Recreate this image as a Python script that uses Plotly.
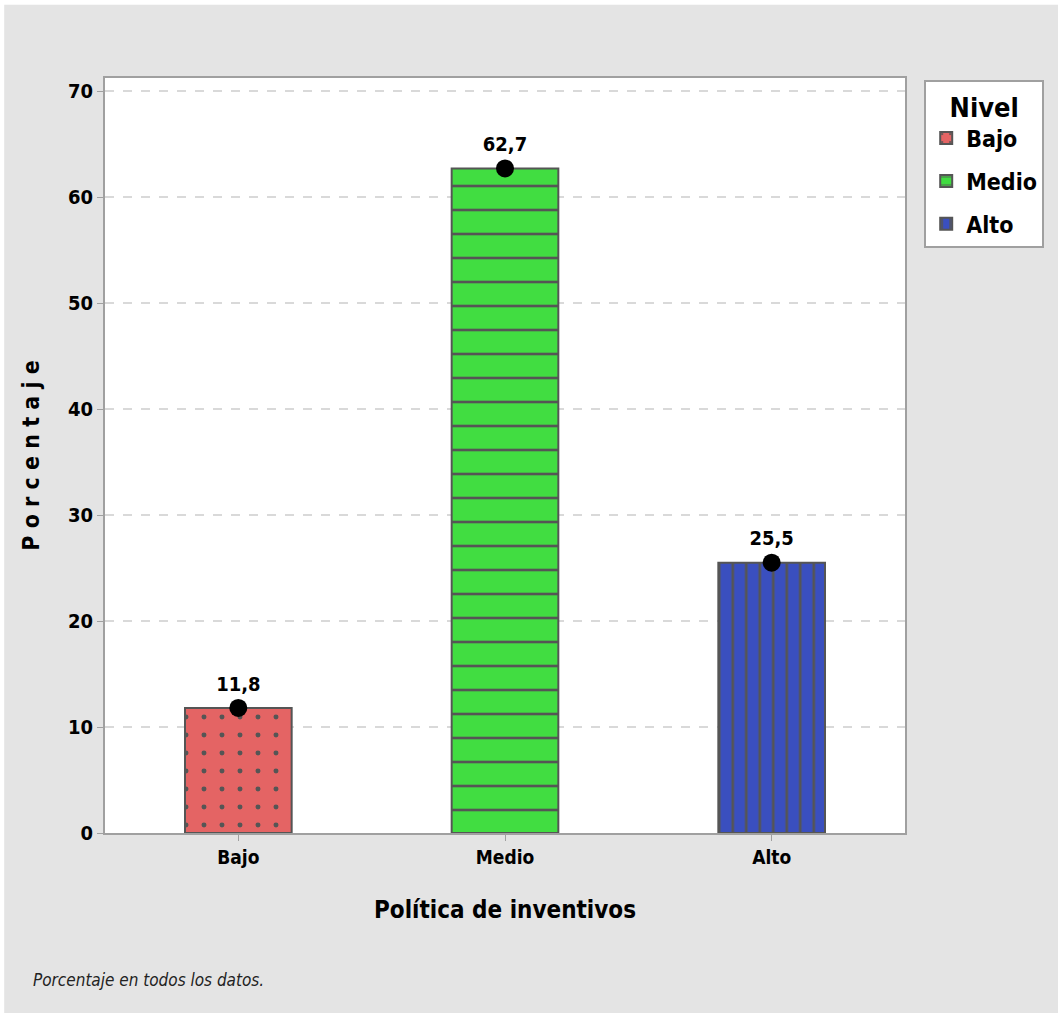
import plotly.graph_objects as go

# Data
categorias = ["Bajo", "Medio", "Alto"]
porcentajes = [11.8, 62.7, 25.5]
etiquetas = ["11,8", "62,7", "25,5"]
colores = ["#e46464", "#41dd41", "#3a4fbf"]
patrones = [".", "-", "|"]
tamanos_patron = [18, 24, 13.5]
solidez_patron = [0.06, 0.11, 0.2]
ticks_y = [0, 10, 20, 30, 40, 50, 60, 70]

FONT = "DejaVu Sans Condensed, Liberation Sans Narrow, sans-serif"

fig = go.Figure()

for cat, val, col, pat, sz, sol in zip(categorias, porcentajes, colores,
                                       patrones, tamanos_patron, solidez_patron):
    fig.add_trace(go.Bar(
        x=[cat], y=[val], name=cat, width=0.4, legendgroup=cat,
        marker=dict(
            color=col,
            line=dict(color="#555555", width=2),
            pattern=dict(shape=pat, fgcolor="#555555", bgcolor=col,
                         size=sz, solidity=sol, fillmode="replace"),
        ),
        hoverinfo="skip",
    ))

# Point markers with value labels on top of each bar
fig.add_trace(go.Scatter(
    x=categorias, y=porcentajes, mode="markers+text",
    text=etiquetas, textposition="top center",
    textfont=dict(family=FONT, size=20, color="black", weight="bold"),
    marker=dict(color="black", size=18),
    showlegend=False, hoverinfo="skip", cliponaxis=False,
))

fig.update_layout(
    width=1058, height=1013,
    margin=dict(l=105, r=153, t=78, b=180),
    paper_bgcolor="#e4e4e4",
    plot_bgcolor="white",
    barmode="overlay",
    font=dict(family=FONT, color="black"),
    legend=dict(
        title=dict(text="Nivel", side="top center",
                   font=dict(size=27, family=FONT, weight="bold")),
        font=dict(size=23, family=FONT, weight="bold"),
        x=1.024, y=0.998, xanchor="left", yanchor="top",
        bgcolor="white", bordercolor="#a0a0a0", borderwidth=2,
        traceorder="grouped", tracegroupgap=10,
    ),
    xaxis=dict(
        range=[-0.5, 2.5],
        showline=True, linecolor="#a0a0a0", linewidth=2, mirror=True,
        ticks="outside", ticklen=6, tickcolor="#a0a0a0",
        tickfont=dict(size=19, family=FONT, weight="bold"),
        title=dict(text="Política de inventivos", standoff=34,
                   font=dict(size=24, family=FONT, weight="bold")),
    ),
    yaxis=dict(
        range=[0, 71.23],
        tickvals=ticks_y,
        showline=True, linecolor="#a0a0a0", linewidth=2, mirror=True,
        ticks="outside", ticklen=6, tickcolor="#a0a0a0",
        tickfont=dict(size=20, family=FONT, weight="bold"),
        showgrid=True, gridcolor="#d9d9d9", gridwidth=1.5, griddash="dash",
        zeroline=False,
        title=dict(text="P o r c e n t a j e", standoff=22,
                   font=dict(size=23, family=FONT, weight="bold")),
    ),
    annotations=[
        dict(text="<i>Porcentaje en todos los datos.</i>",
             xref="paper", yref="paper", x=-0.092, y=-0.195,
             xanchor="left", yanchor="middle", showarrow=False,
             font=dict(size=17, family=FONT, color="#222222")),
    ],
    shapes=[
        # white margins at the left and top edges of the page
        dict(type="rect", xref="paper", yref="paper",
             x0=-0.14, x1=-0.126, y0=-0.26, y1=1.12,
             fillcolor="white", line=dict(width=0), layer="below"),
        dict(type="rect", xref="paper", yref="paper",
             x0=-0.14, x1=1.2, y0=1.097, y1=1.12,
             fillcolor="white", line=dict(width=0), layer="below"),
    ],
)

fig.write_html("out.html")
